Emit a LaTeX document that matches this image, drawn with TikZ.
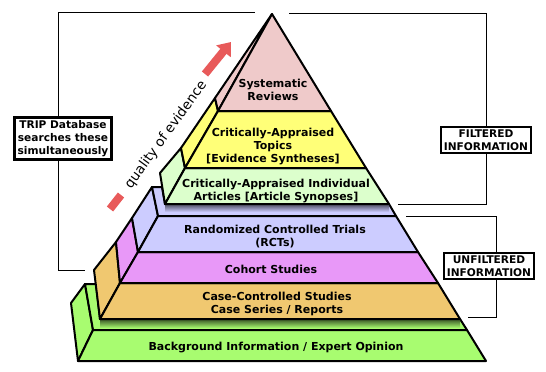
\documentclass[tikz,border=0pt]{standalone}
\usepackage{fontspec}
\setmainfont{DejaVu Sans}
\usepackage{tikz}
\usetikzlibrary{arrows.meta}

\definecolor{pinkL}{HTML}{EFCACA}
\definecolor{yellowL}{HTML}{FFFF78}
\definecolor{greenL}{HTML}{DCFFCC}
\definecolor{lavL}{HTML}{CCCCFF}
\definecolor{magL}{HTML}{E898F8}
\definecolor{orangeL}{HTML}{F0C870}
\definecolor{greenB}{HTML}{A8FC70}
\definecolor{arrowred}{HTML}{E85A5A}

\tikzset{
  layer/.style={draw=black, line width=2pt, line join=round},
  lbl/.style={font=\bfseries\fontsize{11}{13}\selectfont, align=center, inner sep=0pt},
  infobox/.style={draw=black, line width=2.2pt, fill=white, align=center,
    inner xsep=3pt, inner ysep=3pt, font=\bfseries\fontsize{10.6}{12.8}\selectfont},
}

\begin{document}
\begin{tikzpicture}[x=1pt, y=-1pt]
    \useasboundingbox (0,0) rectangle (546,372);
    % background information
    \filldraw[layer, fill=greenB] (78,361) -- (93,330) -- (85,284) -- (71,303) -- cycle;
    \filldraw[layer, fill=greenB] (93,330) -- (85,284) -- (96,284) -- (100,319) -- (460,319) -- (467,330) -- cycle;
    \shade[top color=greenB!40!black, bottom color=greenB] (100,320) rectangle (460,328);
    \filldraw[layer, fill=greenB] (78,361) -- (93,330) -- (467,330) -- (486,361) -- cycle;
    % case series
    \filldraw[layer, fill=orangeL] (100,319) -- (120,283) -- (116,242) -- (94,270) -- cycle;
    \filldraw[layer, fill=orangeL] (100,319) -- (120,283) -- (438,283) -- (460,319) -- cycle;
    % cohort
    \filldraw[layer, fill=magL] (120,283) -- (138,252) -- (132,218) -- (116,242) -- cycle;
    \filldraw[layer, fill=magL] (120,283) -- (138,252) -- (418,252) -- (438,283) -- cycle;
    % rcts
    \filldraw[layer, fill=lavL] (138,252) -- (158,216) -- (152,187) -- (132,218) -- cycle;
    \filldraw[layer, fill=lavL] (158,216) -- (152,187) -- (162,187) -- (165,204) -- (389,204) -- (396,216) -- cycle;
    \shade[top color=lavL!45!black, bottom color=lavL] (165,205) rectangle (389,212);
    \filldraw[layer, fill=lavL] (138,252) -- (158,216) -- (396,216) -- (418,252) -- cycle;
    % synopses
    \filldraw[layer, fill=greenL] (165,204) -- (185,168) -- (181,148) -- (160,173) -- cycle;
    \filldraw[layer, fill=greenL] (165,204) -- (185,168) -- (366,168) -- (389,204) -- cycle;
    % syntheses
    \filldraw[layer, fill=yellowL] (185,168) -- (218,111) -- (215,98) -- (181,148) -- cycle;
    \filldraw[layer, fill=yellowL] (185,168) -- (218,111) -- (331,111) -- (366,168) -- cycle;
    % systematic reviews
    \filldraw[layer, fill=pinkL] (218,111) -- (272,14) -- (215,98) -- cycle;
    \filldraw[layer, fill=pinkL] (218,111) -- (272,14) -- (331,111) -- cycle;

    \node[lbl] (sysrev) at (273,90) {Systematic\\Reviews};
    \node[lbl] (topics) at (273,147) {Critically-Appraised\\Topics\\{}[Evidence Syntheses]};
    \node[lbl] (synop) at (276,191) {Critically-Appraised Individual\\Articles [Article Synopses]};
    \node[lbl] (rct) at (275,237) {Randomized Controlled Trials\\(RCTs)};
    \node[lbl] (cohort) at (271,269) {Cohort Studies};
    \node[lbl] (casectl) at (277,304) {Case-Controlled Studies\\Case Series / Reports};
    \node[lbl] (backgr) at (276,348) {Background Information / Expert Opinion};

    % quality arrow
    \node[rotate=54, font=\fontsize{13.5}{15}\selectfont, inner sep=0pt] (quality) at (166,135) {quality of evidence};
    \draw[line width=8pt, arrowred] (110,209) -- (121,195);
    \draw[line width=8pt, arrowred, -{Triangle[length=12pt, width=18pt]}] (205,74) -- (231,42);

    % side boxes
    \node[infobox] (trip) at (63,138.5) {TRIP Database\\searches these\\simultaneously};
    \node[infobox] (filt) at (486,140) {FILTERED\\INFORMATION};
    \node[infobox] (unfilt) at (489,266) {UNFILTERED\\INFORMATION};
    \coordinate (tripTop) at (255,12);
    \coordinate (tripBot) at (85,270);
    \coordinate (filtTop) at (289,13);
    \coordinate (filtBot) at (398,204);
    \coordinate (unfiltTop) at (406,216);
    \coordinate (unfiltBot) at (468,317);
    \draw ([xshift=-5pt]trip.north) |- (tripTop);
    \draw ([xshift=-5pt]trip.south) |- (tripBot);
    \draw (filt.north) |- (filtTop);
    \draw (filt.south) |- (filtBot);
    \draw ([xshift=7pt]unfilt.north) |- (unfiltTop);
    \draw ([xshift=7pt]unfilt.south) |- (unfiltBot);
\end{tikzpicture}
\end{document}
